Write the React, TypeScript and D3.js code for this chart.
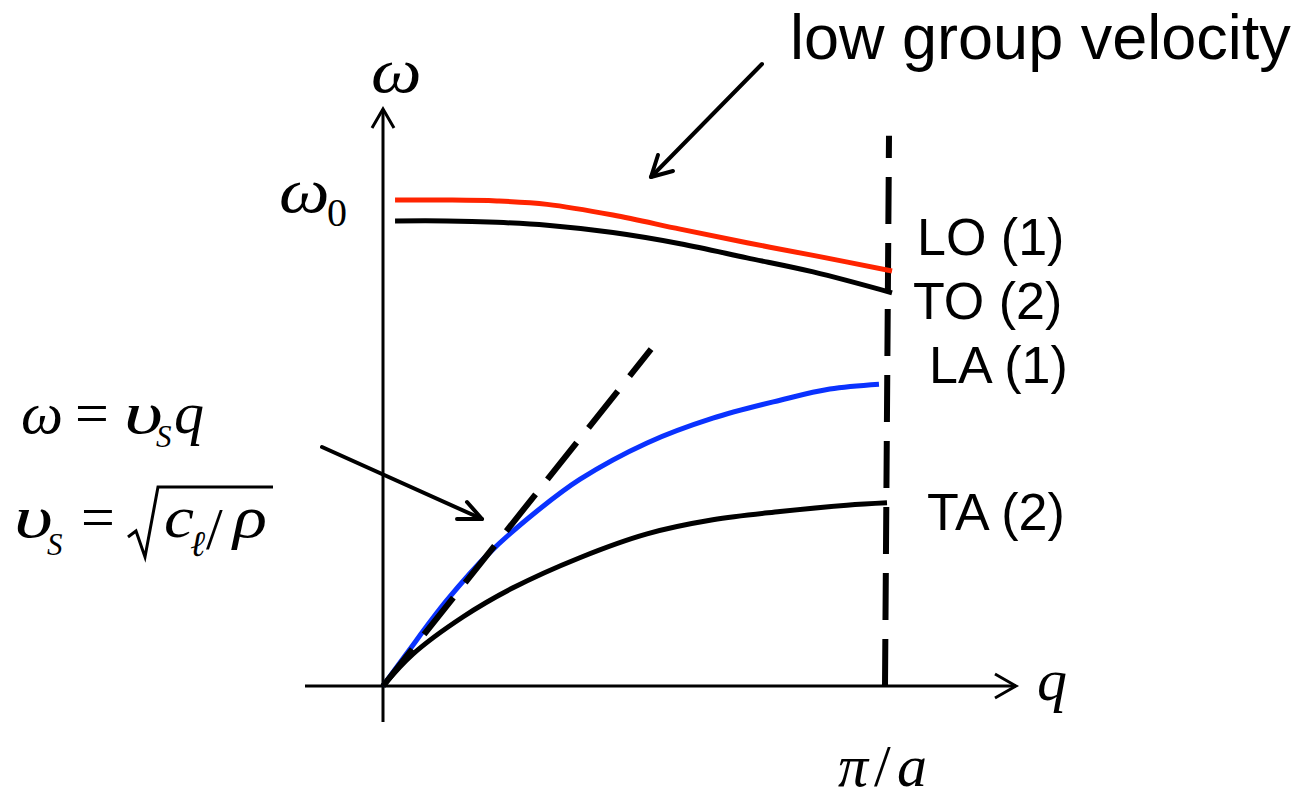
import React from "react";
import * as d3 from "d3";

// Reduced wave vector q in units of pi/a, frequency in units of omega_0
const qOptical = [0.024, 0.127, 0.227, 0.327, 0.458, 0.592, 0.725, 0.857, 1.014];
const omegaLO = [1.0, 1.0, 0.998, 0.991, 0.969, 0.94, 0.912, 0.886, 0.854];
const omegaTO = [0.957, 0.957, 0.954, 0.948, 0.933, 0.91, 0.881, 0.852, 0.809];

const qLA = [0, 0.048, 0.127, 0.213, 0.307, 0.392, 0.526, 0.657, 0.791, 0.89, 0.988];
const omegaLA = [0, 0.068, 0.176, 0.275, 0.36, 0.425, 0.5, 0.551, 0.588, 0.611, 0.621];

const qTA = [0, 0.06, 0.159, 0.259, 0.392, 0.526, 0.657, 0.791, 0.924, 1.004];
const omegaTA = [0, 0.066, 0.142, 0.202, 0.264, 0.313, 0.342, 0.359, 0.372, 0.377];

// Long-wavelength limit omega = v_s q
const qSound = [0, 0.534];
const omegaSound = [0, 0.693];

const modeLabels = ["LO (1)", "TO (2)", "LA (1)", "TA (2)"];
const annotation = "low group velocity";

const SANS = "'Liberation Sans', Arial, Helvetica, sans-serif";
const SERIF = "'Liberation Serif', 'Times New Roman', Times, serif";

const zip = (a: number[], b: number[]): [number, number][] => a.map((v, i) => [v, b[i]]);

// italic serif glyph, optionally stretched horizontally
function MathGlyph({
  x,
  y,
  size = 60,
  sx = 1,
  italic = true,
  children,
}: {
  x: number;
  y: number;
  size?: number;
  sx?: number;
  italic?: boolean;
  children: React.ReactNode;
}) {
  return (
    <text
      transform={`translate(${x},${y}) scale(${sx},1)`}
      fontFamily={SERIF}
      fontStyle={italic ? "italic" : "normal"}
      fontSize={size}
      fill="#000"
    >
      {children}
    </text>
  );
}

export default function App() {
  const x = d3.scaleLinear().domain([0, 1]).range([383, 885]);
  const y = d3.scaleLinear().domain([0, 1]).range([686, 200]);
  const line = d3
    .line<[number, number]>()
    .x((d) => x(d[0]))
    .y((d) => y(d[1]))
    .curve(d3.curveCatmullRom.alpha(0.5));

  const labelPos = [
    { x: 917, y: 255 },
    { x: 913, y: 319 },
    { x: 929, y: 383 },
    { x: 927, y: 530 },
  ];

  return (
    <svg
      width={1304}
      height={799}
      style={{ position: "absolute", left: 0, top: 0, background: "#fff" }}
    >
      {/* axes */}
      <g stroke="#000" strokeWidth={3} fill="none">
        <line x1={x(0)} y1={722} x2={x(0)} y2={109} />
        <polyline points={`${x(0) - 11},128 ${x(0)},109 ${x(0) + 11},128`} />
        <line x1={305} y1={y(0)} x2={1016} y2={y(0)} />
        <polyline points={`995,${y(0) - 12} 1016,${y(0)} 995,${y(0) + 12}`} />
      </g>

      {/* zone boundary */}
      <line
        x1={x(1)}
        y1={y(0)}
        x2={x(1) + 4}
        y2={y(1.132)}
        stroke="#000"
        strokeWidth={6}
        strokeDasharray="47 19"
      />

      {/* dispersion branches */}
      <path d={line(zip(qOptical, omegaLO)) || ""} stroke="#ff2400" strokeWidth={5} fill="none" />
      <path d={line(zip(qOptical, omegaTO)) || ""} stroke="#000" strokeWidth={5} fill="none" />
      <path d={line(zip(qLA, omegaLA)) || ""} stroke="#0a32ff" strokeWidth={5} fill="none" />
      <path d={line(zip(qTA, omegaTA)) || ""} stroke="#000" strokeWidth={5} fill="none" />

      {/* sound velocity asymptote, drawn over the LA branch */}
      <path
        d={line(zip(qSound, omegaSound)) || ""}
        stroke="#000"
        strokeWidth={6}
        strokeDasharray="47 19"
        fill="none"
      />

      {/* annotation arrows */}
      <g stroke="#000" strokeWidth={4} fill="none" strokeLinecap="round" strokeLinejoin="round">
        <line x1={762} y1={64} x2={651} y2={177} />
        <polyline points="658,155 651,177 673,171" />
        <line x1={322} y1={447} x2={482} y2={519} />
        <polyline points="467,502 482,519 457,519" />
      </g>

      {/* branch labels */}
      <g fontFamily={SANS} fontSize={52} fill="#000">
        {modeLabels.map((t, i) => (
          <text key={t} x={labelPos[i].x} y={labelPos[i].y}>
            {t}
          </text>
        ))}
        <text x={790} y={59} fontSize={63}>
          {annotation}
        </text>
      </g>

      {/* axis symbols */}
      <MathGlyph x={371} y={92} size={64} sx={1.12}>ω</MathGlyph>
      <MathGlyph x={279} y={212} size={64} sx={1.12}>ω</MathGlyph>
      <MathGlyph x={327} y={226} size={40} italic={false}>0</MathGlyph>
      <MathGlyph x={1037} y={700}>q</MathGlyph>
      <MathGlyph x={838} y={786}>π</MathGlyph>
      <MathGlyph x={874} y={786} italic={false}>/</MathGlyph>
      <MathGlyph x={897} y={786}>a</MathGlyph>

      {/* omega = v_s q */}
      <text fontFamily={SERIF} fontStyle="italic" fontSize={60} fill="#000">
        <tspan x={21} y={433} textLength={42} lengthAdjust="spacingAndGlyphs">ω</tspan>
        <tspan x={75} y={433} fontStyle="normal">=</tspan>
        <tspan x={124} y={433} textLength={39} lengthAdjust="spacingAndGlyphs">υ</tspan>
        <tspan x={156} y={447} fontSize={31}>S</tspan>
        <tspan x={174} y={433}>q</tspan>
      </text>

      {/* v_s = sqrt(c_l / rho) */}
      <path
        d="M128,537 L136,531 L145,557 L158,487 L273,487"
        stroke="#000"
        strokeWidth={3}
        fill="none"
      />
      <text fontFamily={SERIF} fontStyle="italic" fontSize={60} fill="#000">
        <tspan x={14} y={537} textLength={39} lengthAdjust="spacingAndGlyphs">υ</tspan>
        <tspan x={47} y={555} fontSize={31}>S</tspan>
        <tspan x={81} y={537} fontStyle="normal">=</tspan>
        <tspan x={164} y={537} textLength={30} lengthAdjust="spacingAndGlyphs">c</tspan>
        <tspan x={190} y={556} fontSize={36}>ℓ</tspan>
        <tspan x={206} y={549} fontStyle="normal">/</tspan>
        <tspan x={233} y={537} textLength={34} lengthAdjust="spacingAndGlyphs">ρ</tspan>
      </text>
    </svg>
  );
}
